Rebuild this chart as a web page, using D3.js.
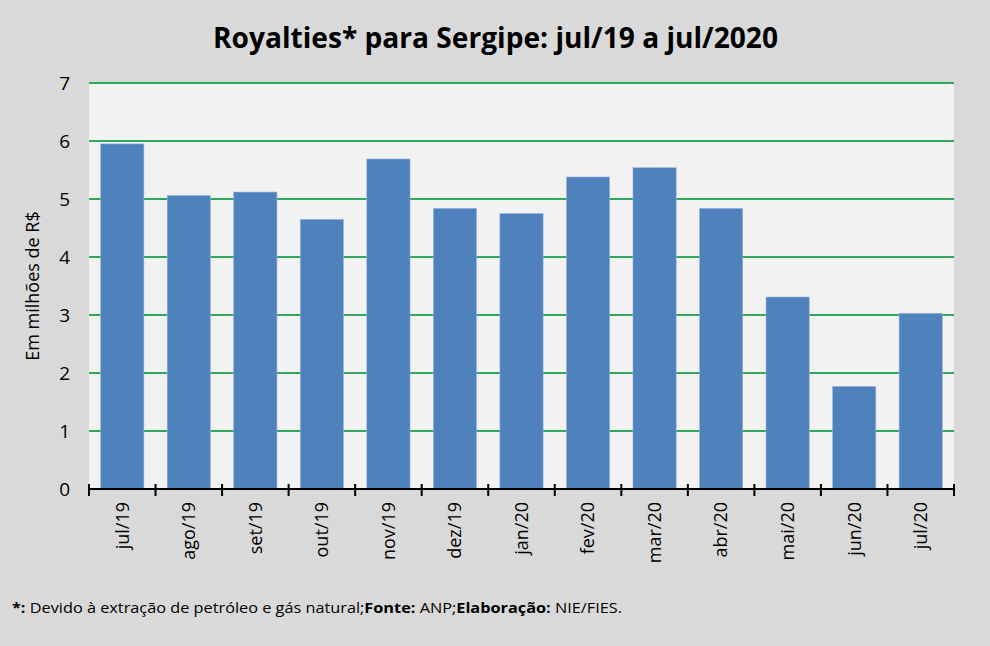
<!DOCTYPE html>
<html>
<head>
<meta charset="utf-8">
<script src="https://cdn.jsdelivr.net/npm/d3@7"></script>
<style>
  body { margin: 0; background: #d9d9d9; }
  svg { display: block; font-family: "Open Sans", "Noto Sans", sans-serif; }
</style>
</head>
<body>
<svg id="chart"></svg>
<script>
// months and values (milhões de R$)
var months = ["jul/19", "ago/19", "set/19", "out/19", "nov/19", "dez/19", "jan/20",
              "fev/20", "mar/20", "abr/20", "mai/20", "jun/20", "jul/20"]
var royalties = [5.95, 5.06, 5.12, 4.65, 5.69, 4.84, 4.75, 5.38, 5.54, 4.84, 3.31, 1.77, 3.03]
var yTicks = [0, 1, 2, 3, 4, 5, 6, 7]

var width = 990, height = 646
var plot = {left: 89, right: 954, top: 83, bottom: 489}

var svg = d3.select("#chart").attr("width", width).attr("height", height)

svg.append("rect").attr("width", width).attr("height", height).attr("fill", "#d9d9d9")

var x = d3.scaleBand().domain(months).range([plot.left, plot.right]).paddingInner(0.35).paddingOuter(0.175)
var y = d3.scaleLinear().domain([0, 7]).range([plot.bottom, plot.top])

// plot background
svg.append("rect")
    .attr("x", plot.left).attr("y", plot.top)
    .attr("width", plot.right - plot.left).attr("height", plot.bottom - plot.top)
    .attr("fill", "#f2f2f2")

// gridlines
svg.append("g").selectAll("line").data(yTicks.filter(d => d > 0)).join("line")
    .attr("x1", plot.left).attr("x2", plot.right)
    .attr("y1", d => y(d)).attr("y2", d => y(d))
    .attr("stroke", "#2ea85a").attr("stroke-width", 2)

// y tick labels
svg.append("g").selectAll("text").data(yTicks).join("text")
    .attr("x", 70).attr("y", d => y(d))
    .attr("dy", "0.35em")
    .attr("text-anchor", "end")
    .attr("font-size", 19)
    .attr("fill", "#000")
    .text(d => d)

// bars
svg.append("g").selectAll("rect").data(royalties).join("rect")
    .attr("x", (d, i) => x(months[i]))
    .attr("y", d => y(d))
    .attr("width", x.bandwidth())
    .attr("height", d => y(0) - y(d))
    .attr("fill", "#4f81bd")
    .attr("stroke", "#9bb7dc").attr("stroke-width", 0.6)

// x axis line + ticks at category boundaries
var xAxis = svg.append("g")
xAxis.append("line")
    .attr("x1", plot.left).attr("x2", plot.right)
    .attr("y1", plot.bottom).attr("y2", plot.bottom)
    .attr("stroke", "#000").attr("stroke-width", 2)
var bounds = months.map(m => x(m) - x.step() * x.paddingInner() / 2)
bounds[0] = plot.left
bounds.push(plot.right)
xAxis.selectAll("line.tick").data(bounds).join("line")
    .attr("class", "tick")
    .attr("x1", d => d).attr("x2", d => d)
    .attr("y1", plot.bottom - 5).attr("y2", plot.bottom + 7)
    .attr("stroke", "#000").attr("stroke-width", 2)

// rotated month labels
xAxis.selectAll("text").data(months).join("text")
    .attr("transform", d => "translate(" + (x(d) + x.bandwidth() / 2) + "," + (plot.bottom + 13) + ") rotate(-90)")
    .attr("text-anchor", "end")
    .attr("dy", "0.35em")
    .attr("font-size", 18)
    .attr("fill", "#000")
    .text(d => d)

// y axis title
svg.append("text")
    .attr("transform", "translate(33,286) rotate(-90)")
    .attr("text-anchor", "middle")
    .attr("dy", "0.35em")
    .attr("font-size", 18)
    .attr("fill", "#000")
    .text("Em milhões de R$")

// title
svg.append("text")
    .attr("x", 213).attr("y", 48)
    .attr("font-size", 28)
    .attr("font-weight", "bold")
    .attr("fill", "#000")
    .attr("textLength", 565).attr("lengthAdjust", "spacingAndGlyphs")
    .text("Royalties* para Sergipe: jul/19 a jul/2020")

// footnote
var note = svg.append("text")
    .attr("x", 12).attr("y", 613)
    .attr("font-size", 15)
    .attr("fill", "#000")
    .attr("textLength", 610).attr("lengthAdjust", "spacingAndGlyphs")
note.append("tspan").attr("font-weight", "bold").text("*:")
note.append("tspan").text(" Devido à extração de petróleo e gás natural;")
note.append("tspan").attr("font-weight", "bold").text("Fonte:")
note.append("tspan").text(" ANP;")
note.append("tspan").attr("font-weight", "bold").text("Elaboração:")
note.append("tspan").text(" NIE/FIES.")
</script>
</body>
</html>
